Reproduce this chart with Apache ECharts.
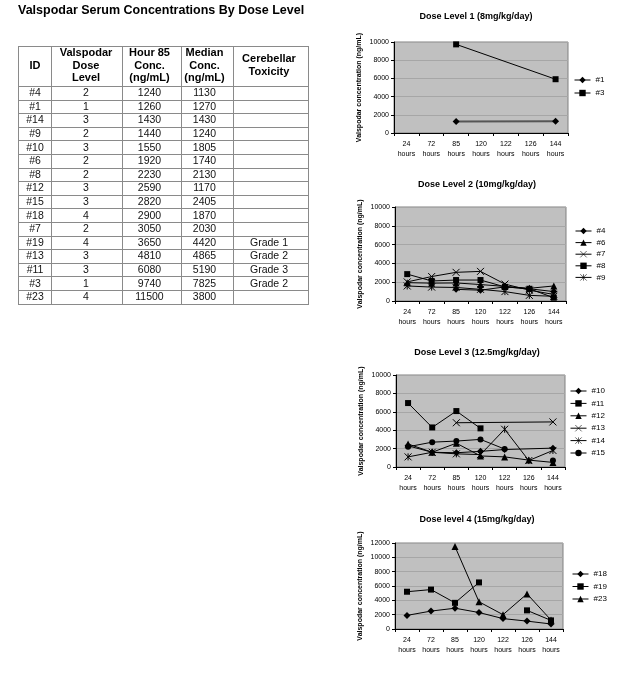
<!DOCTYPE html>
<html><head><meta charset="utf-8">
<script src="https://cdn.jsdelivr.net/npm/echarts@6/dist/echarts.min.js"></script>
<style>html,body{margin:0;padding:0;background:#fff}#c{width:627px;height:674px}</style>
</head><body><div id="c"></div>
<script>
// ---------- DATA ----------
const pageTitle = 'Valspodar Serum Concentrations By Dose Level';
const tableHeaders = [['ID'], ['Valspodar', 'Dose', 'Level'], ['Hour 85', 'Conc.', '(ng/mL)'], ['Median', 'Conc.', '(ng/mL)'], ['Cerebellar', 'Toxicity']];
const patientIds = ['#4', '#1', '#14', '#9', '#10', '#6', '#8', '#12', '#15', '#18', '#7', '#19', '#13', '#11', '#3', '#23'];
const doseLevels = [2, 1, 3, 2, 3, 2, 2, 3, 3, 4, 2, 4, 3, 3, 1, 4];
const hour85Conc = [1240, 1260, 1430, 1440, 1550, 1920, 2230, 2590, 2820, 2900, 3050, 3650, 4810, 6080, 9740, 11500];
const medianConc = [1130, 1270, 1430, 1240, 1805, 1740, 2130, 1170, 2405, 1870, 2030, 4420, 4865, 5190, 7825, 3800];
const toxicity = ['', '', '', '', '', '', '', '', '', '', '', 'Grade 1', 'Grade 2', 'Grade 3', 'Grade 2', ''];

const timepoints = ['24 hours', '72 hours', '85 hours', '120 hours', '122 hours', '126 hours', '144 hours'];
const chartTitles = ['Dose Level 1 (8mg/kg/day)', 'Dose Level 2 (10mg/kg/day)', 'Dose Level 3 (12.5mg/kg/day)', 'Dose level 4 (15mg/kg/day)'];
const yAxisName = 'Valspodar concentration (ng/mL)';
const yMax = [10000, 10000, 10000, 12000];

// Dose level 1
const pt1 = [null, null, 1260, null, null, null, 1280];
const pt3 = [null, null, 9740, null, null, null, 5910];
// Dose level 2
const pt4 = [null, null, 1240, 1150, 1500, 1300, 1000];
const pt6 = [1950, 1900, 1920, 1750, 1550, 1350, 1600];
const pt7 = [2030, 2600, 3050, 3150, 1800, 1150, 700];
const pt8 = [2860, 2130, 2230, 2230, 1500, 1300, 350];
const pt9 = [1600, 1480, 1440, 1240, 1000, 600, 500];
// Dose level 3
const pt10 = [2300, 1600, 1550, 1700, 1900, null, 2050];
const pt11 = [6950, 4300, 6080, 4200, null, null, null];
const pt12 = [2500, 1600, 2590, 1200, 1100, 750, 500];
const pt13 = [null, null, 4810, null, null, null, 4900];
const pt14 = [1100, 1600, 1430, 1350, 4100, 700, 1800];
const pt15 = [2200, 2700, 2820, 3000, 1950, null, 700];
// Dose level 4
const pt18 = [1900, 2500, 2900, 2300, 1450, 1100, 700];
const pt19 = [5200, 5500, 3650, 6500, null, 2600, 1200];
const pt23 = [null, null, 11500, 3800, 2000, 4900, 1250];

// ---------- STYLE / LAYOUT ----------
const FONT = '"Liberation Sans", Arial, sans-serif';
const MK = {
  diamond: { symbol: 'diamond', size: 7, stroke: false },
  square: { symbol: 'rect', size: 6, stroke: false },
  triangle: { symbol: 'triangle', size: 7, stroke: false },
  cross: { symbol: 'path://M0,0L10,10M0,10L10,0', size: 7, stroke: true },
  star: { symbol: 'path://M0,0L10,10M0,10L10,0M5,0L5,10', size: 7, stroke: true },
  circle: { symbol: 'circle', size: 6, stroke: false }
};
const seriesDefs = [
  { name: '#1', data: pt1, chart: 0, mk: 'diamond', connect: true, lw: 2, lc: '#555' },
  { name: '#3', data: pt3, chart: 0, mk: 'square', connect: true },
  { name: '#4', data: pt4, chart: 1, mk: 'diamond' },
  { name: '#6', data: pt6, chart: 1, mk: 'triangle' },
  { name: '#7', data: pt7, chart: 1, mk: 'cross' },
  { name: '#8', data: pt8, chart: 1, mk: 'square' },
  { name: '#9', data: pt9, chart: 1, mk: 'star' },
  { name: '#10', data: pt10, chart: 2, mk: 'diamond', connect: true },
  { name: '#11', data: pt11, chart: 2, mk: 'square' },
  { name: '#12', data: pt12, chart: 2, mk: 'triangle' },
  { name: '#13', data: pt13, chart: 2, mk: 'cross', connect: true },
  { name: '#14', data: pt14, chart: 2, mk: 'star' },
  { name: '#15', data: pt15, chart: 2, mk: 'circle' },
  { name: '#18', data: pt18, chart: 3, mk: 'diamond' },
  { name: '#19', data: pt19, chart: 3, mk: 'square' },
  { name: '#23', data: pt23, chart: 3, mk: 'triangle' }
];
const grids = [
  { left: 394, top: 42, width: 174, height: 91 },
  { left: 395, top: 207, width: 171, height: 94 },
  { left: 396, top: 375, width: 169, height: 92 },
  { left: 395, top: 543, width: 168, height: 86 }
];
const titlePos = [[476, 17], [477, 185], [477, 353], [477, 520]];
const legendPos = [
  { left: 574, top: 76, gap: 5 },
  { left: 575, top: 227, gap: 3.6 },
  { left: 570, top: 387, gap: 4.4 },
  { left: 572, top: 570, gap: 4.5 }
];

// ---------- TABLE (graphic) ----------
const colX = [18, 51, 122, 181, 233, 308];
const colCenters = [35, 86, 149.5, 204.5, 269];
const tableTop = 46, headerBottom = 86, rowH = 13.6;
const gEls = [];
gEls.push({ type: 'text', style: { x: 18, y: 11, text: pageTitle, font: 'bold 12.5px ' + FONT, fill: '#000', textVerticalAlign: 'middle' } });
const nRows = patientIds.length;
const tableBottom = headerBottom + nRows * rowH;
const hy = [tableTop, headerBottom];
for (let i = 1; i <= nRows; i++) hy.push(headerBottom + i * rowH);
hy.forEach(y => {
  const yy = Math.round(y) + 0.5;
  gEls.push({ type: 'line', shape: { x1: colX[0], y1: yy, x2: colX[5] + 1, y2: yy }, style: { stroke: '#8a8a8a', lineWidth: 1 } });
});
colX.forEach(x => {
  gEls.push({ type: 'line', shape: { x1: x + 0.5, y1: tableTop, x2: x + 0.5, y2: Math.round(tableBottom) + 1 }, style: { stroke: '#8a8a8a', lineWidth: 1 } });
});
tableHeaders.forEach((lines, c) => {
  const lh = 12.5;
  const mid = 65.5;
  lines.forEach((t, k) => {
    const y = mid + (k - (lines.length - 1) / 2) * lh;
    gEls.push({ type: 'text', style: { x: colCenters[c], y: y, text: t, font: 'bold 11px ' + FONT, fill: '#000', textAlign: 'center', textVerticalAlign: 'middle' } });
  });
});
const cols = [patientIds, doseLevels, hour85Conc, medianConc, toxicity];
for (let r = 0; r < nRows; r++) {
  const y = headerBottom + rowH * (r + 0.5);
  cols.forEach((col, c) => {
    const t = String(col[r]);
    if (!t) return;
    gEls.push({ type: 'text', style: { x: colCenters[c], y: y + 0.5, text: t, font: '10.5px ' + FONT, fill: '#111', textAlign: 'center', textVerticalAlign: 'middle' } });
  });
}
chartTitles.forEach((t, i) => {
  gEls.push({ type: 'text', style: { x: titlePos[i][0], y: titlePos[i][1], text: t, font: 'bold 9px ' + FONT, fill: '#000', textAlign: 'center', textVerticalAlign: 'middle' } });
});

// ---------- CHARTS ----------
const option = {
  animation: false,
  backgroundColor: '#fff',
  textStyle: { fontFamily: FONT },
  graphic: { elements: gEls },
  grid: grids.map(g => Object.assign({ show: true, backgroundColor: '#c0c0c0', borderColor: '#808080', borderWidth: 1 }, g)),
  xAxis: grids.map((g, i) => ({
    gridIndex: i, type: 'category', data: timepoints, boundaryGap: true,
    axisLine: { show: true, lineStyle: { color: '#000', width: 1 } },
    axisTick: { show: true, length: 3, lineStyle: { color: '#000' } },
    axisLabel: { fontSize: 7, lineHeight: 10, margin: 6, interval: 0, color: '#000', fontFamily: FONT, formatter: v => v.replace(' ', '\n') },
    splitLine: { show: false }
  })),
  yAxis: grids.map((g, i) => ({
    gridIndex: i, type: 'value', min: 0, max: yMax[i], interval: 2000,
    axisLine: { show: true, lineStyle: { color: '#000', width: 1 } },
    axisTick: { show: true, length: 3, lineStyle: { color: '#000' } },
    axisLabel: { fontSize: 7, margin: 5, color: '#000', fontFamily: FONT, formatter: v => String(v) },
    splitLine: { show: true, lineStyle: { color: '#a6a6a6', width: 1 } },
    name: yAxisName, nameLocation: 'middle', nameGap: 31,
    nameTextStyle: { fontSize: 7, fontWeight: 'bold', color: '#000', fontFamily: FONT }
  })),
  legend: legendPos.map((p, i) => ({
    data: seriesDefs.filter(s => s.chart === i).map(s => ({
      name: s.name,
      itemStyle: { color: '#000', borderColor: '#000', borderWidth: MK[s.mk].stroke ? 0.6 : 0 }
    })),
    orient: 'vertical', left: p.left, top: p.top, itemGap: p.gap, padding: 0,
    itemWidth: 16, itemHeight: 8, selectedMode: false,
    lineStyle: { width: 1, color: '#000' },
    textStyle: { fontSize: 8, lineHeight: 8, color: '#000', fontFamily: FONT }
  })),
  series: seriesDefs.map(s => {
    const m = MK[s.mk];
    return {
      type: 'line', name: s.name, data: s.data,
      xAxisIndex: s.chart, yAxisIndex: s.chart,
      connectNulls: !!s.connect,
      symbol: m.symbol, symbolSize: m.size, showSymbol: true,
      lineStyle: { color: s.lc || '#000', width: s.lw || 1 },
      itemStyle: { color: '#000', borderColor: '#000', borderWidth: m.stroke ? 1 : 0 },
      emphasis: { disabled: true }
    };
  })
};
const chart = echarts.init(document.getElementById('c'), null, { renderer: 'canvas' });
chart.setOption(option);
</script>
</body></html>
